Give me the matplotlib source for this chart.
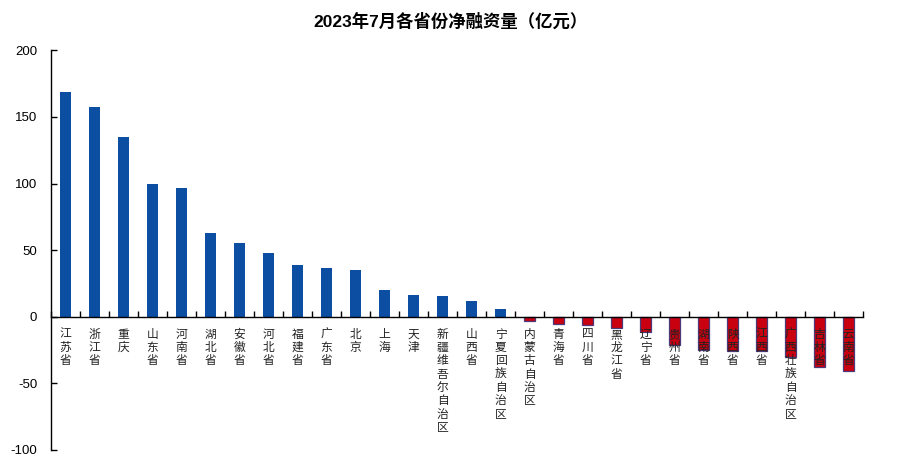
import numpy as np
import matplotlib
matplotlib.use('Agg')
import matplotlib.pyplot as plt
from matplotlib.ticker import MultipleLocator, FixedLocator

plt.rcParams['font.family'] = ['Liberation Sans', 'Noto Sans CJK SC', 'DejaVu Sans']
plt.rcParams['axes.unicode_minus'] = False

# provinces and net financing (100 million yuan), July 2023
provinces = ['江苏省', '浙江省', '重庆', '山东省', '河南省', '湖北省', '安徽省',
             '河北省', '福建省', '广东省', '北京', '上海', '天津',
             '新疆维吾尔自治区', '山西省', '宁夏回族自治区', '内蒙古自治区',
             '青海省', '四川省', '黑龙江省', '辽宁省', '贵州省', '湖南省',
             '陕西省', '江西省', '广西壮族自治区', '吉林省', '云南省']
values = [168.8, 157.6, 135.0, 99.9, 96.4, 63.0, 55.0,
          47.5, 38.5, 36.3, 34.8, 19.8, 16.0,
          15.3, 11.6, 5.6, -3.3,
          -5.4, -6.5, -8.5, -11.6, -21.0, -25.0,
          -25.6, -26.0, -30.0, -38.0, -40.6]

title = '2023年7月各省份净融资量（亿元）'

x = np.arange(len(provinces))
vals = np.array(values)

fig = plt.figure(figsize=(9, 4.65), dpi=100)
ax = fig.add_axes([0.0567, 0.0323, 0.9023, 0.8595])

pos = vals >= 0
ax.bar(x[pos], vals[pos], width=0.36, color='#0B4EA2', zorder=1)
ax.bar(x[~pos], vals[~pos], width=0.36, color='#C8000F',
       edgecolor='#4A3A7A', linewidth=0.9, zorder=1)

ax.set_xlim(-0.5, len(provinces) - 0.5)
ax.set_ylim(-100, 200)
ax.yaxis.set_major_locator(MultipleLocator(50))

# spines: x axis sits on zero
for s in ['top', 'right']:
    ax.spines[s].set_visible(False)
ax.spines['bottom'].set_position(('data', 0))
ax.spines['bottom'].set_linewidth(1.0)
ax.spines['left'].set_linewidth(1.0)

# vertical stacked labels
ax.set_xticks(x)
ax.set_xticklabels(['\n'.join(p) for p in provinces],
                   fontsize=8.5, color='#222222', va='top',
                   family=['Noto Sans CJK SC'], linespacing=1.03)
ax.tick_params(axis='x', which='major', length=0, pad=8)
ax.xaxis.set_minor_locator(FixedLocator(np.arange(-0.5, len(provinces), 1.0)))
ax.tick_params(axis='x', which='minor', direction='in', length=4, width=1)

ax.tick_params(axis='y', direction='in', length=4, width=1,
               labelsize=9.5, pad=10)

fig.text(0.5, 0.955, title, ha='center', va='center', fontsize=12.5,
         fontweight='bold')

fig.savefig('out.png', dpi=100)
